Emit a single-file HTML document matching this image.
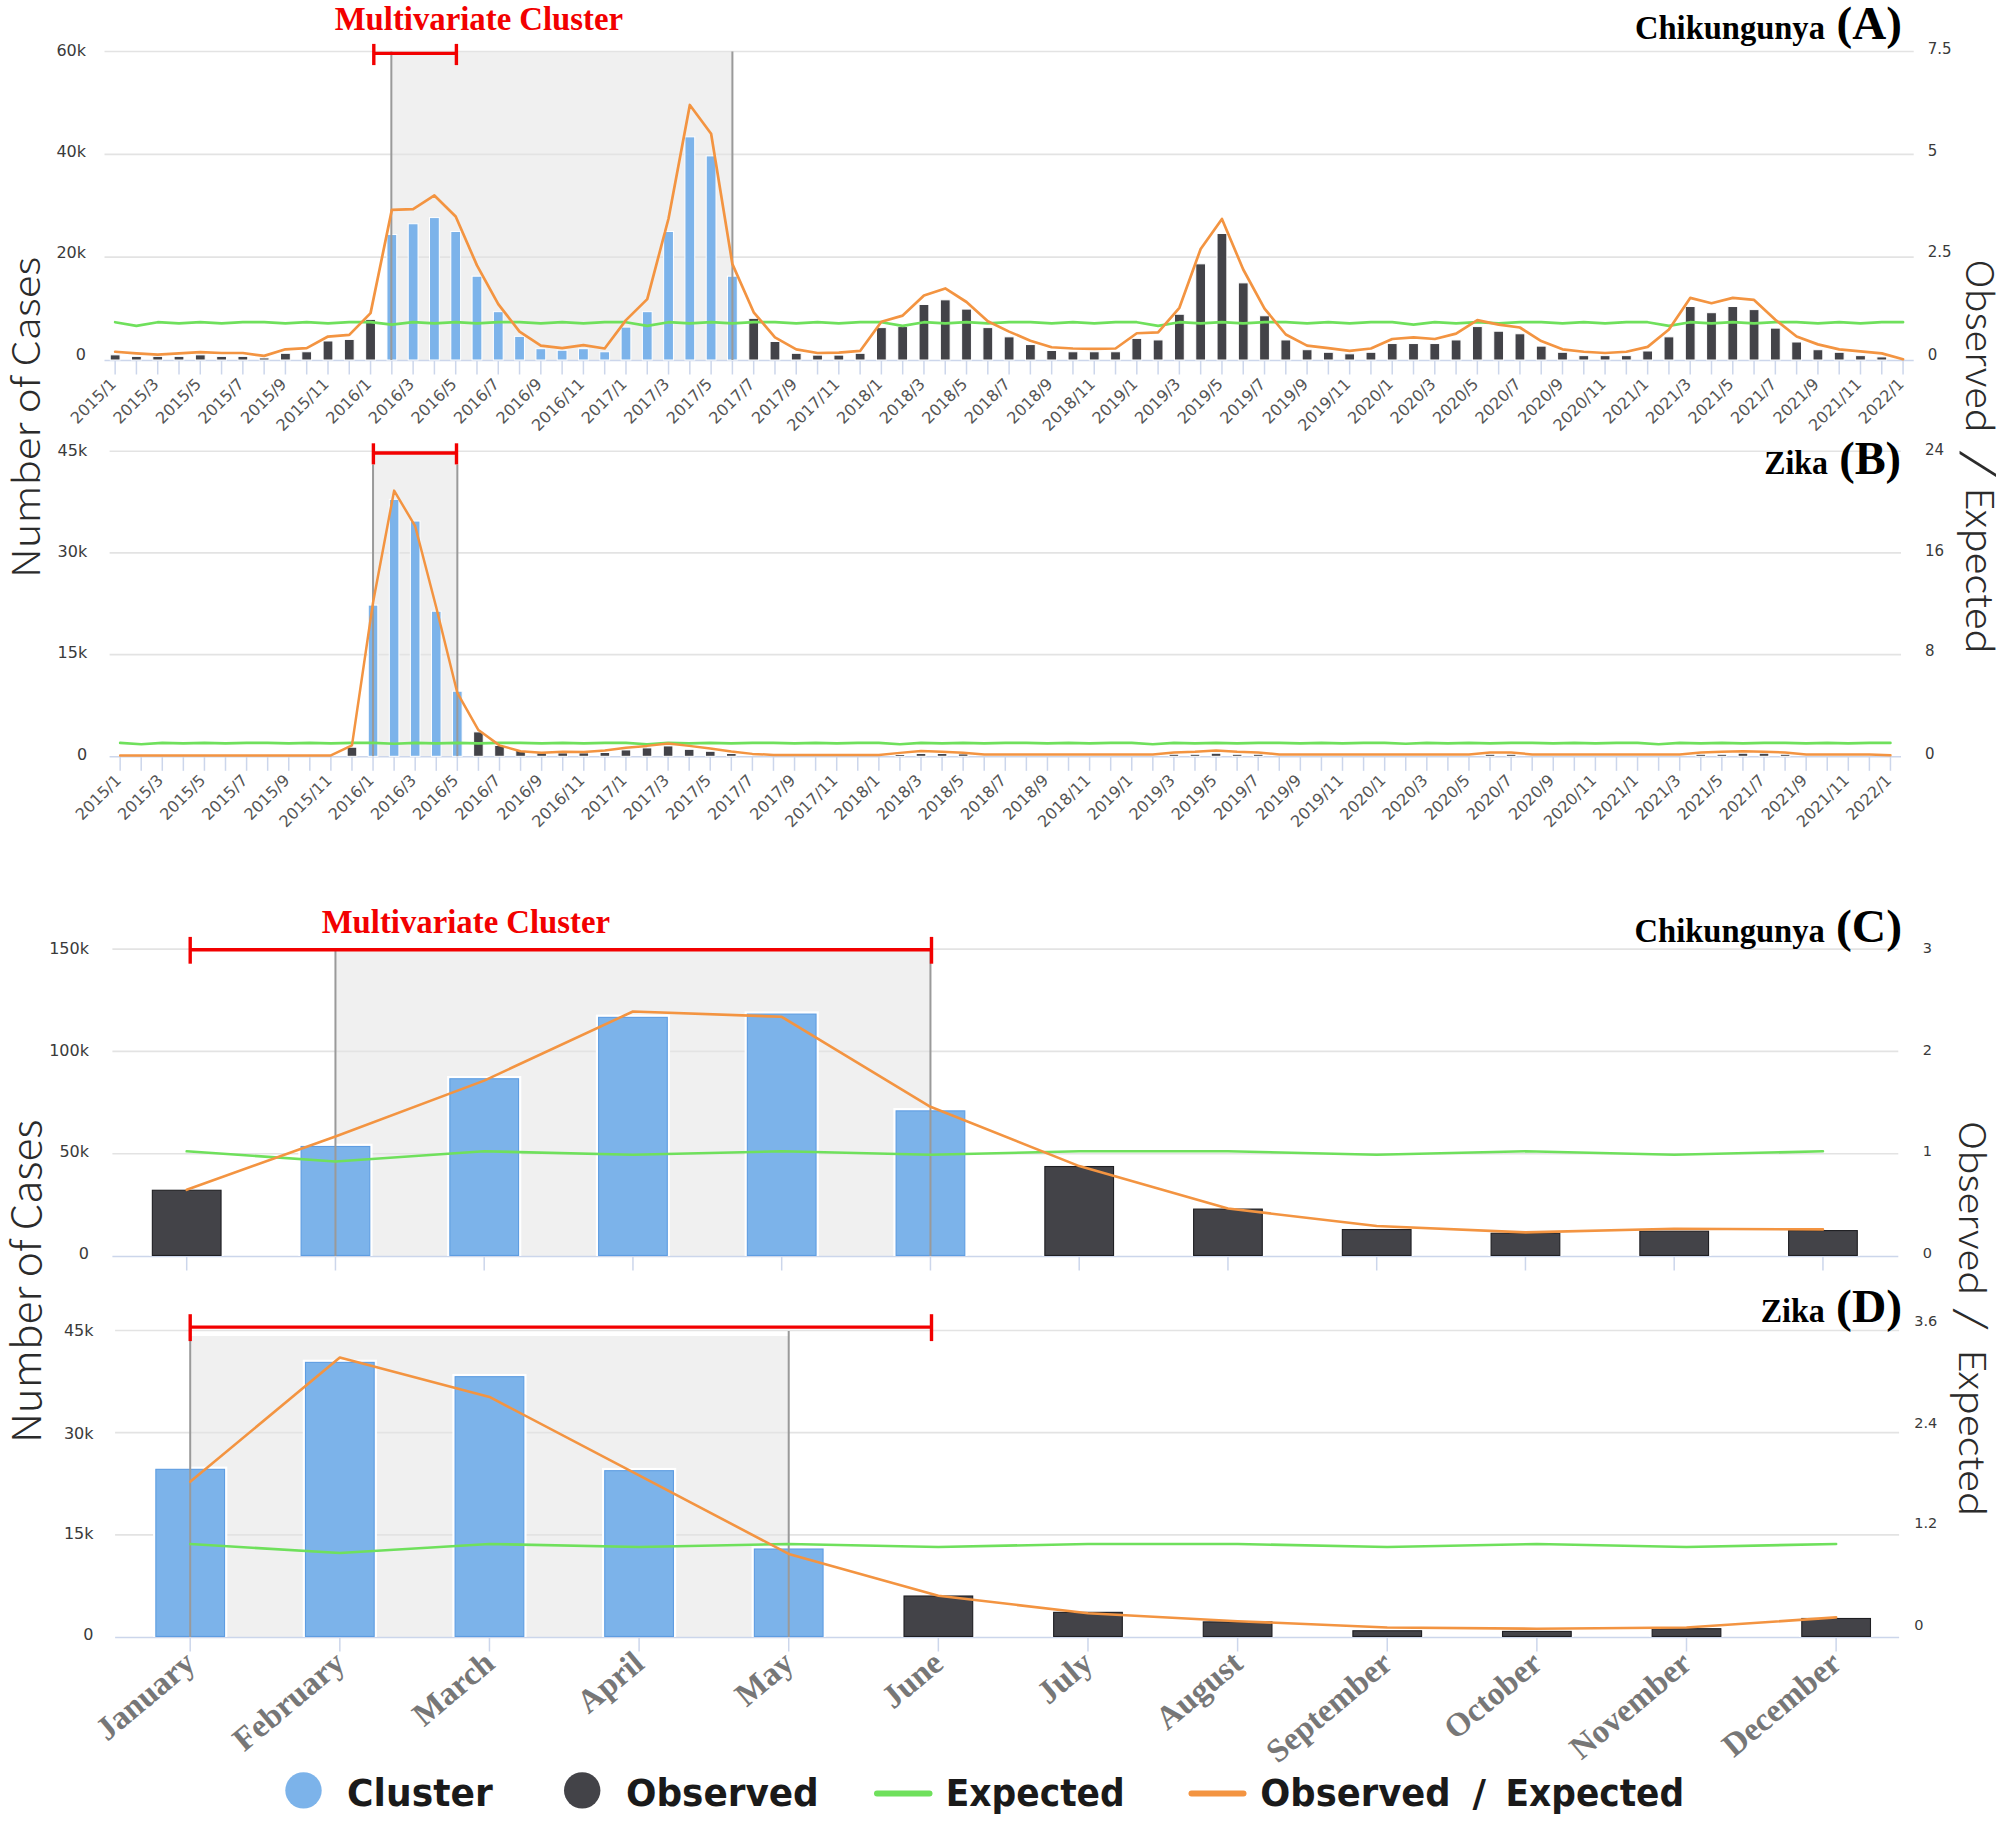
<!DOCTYPE html>
<html><head><meta charset="utf-8"><title>Chikungunya and Zika clusters</title>
<style>html,body{margin:0;padding:0;background:#fff;}svg{display:block;}.tl{font-family:"DejaVu Sans","Liberation Sans",sans-serif;fill:#3a3a3a;}.xl{font-family:"DejaVu Sans","Liberation Sans",sans-serif;fill:#555;font-size:16px;}.ser{font-family:"Liberation Serif","Times New Roman",serif;font-weight:bold;}.ttl{font-family:"Noto Sans CJK JP","DejaVu Sans","Liberation Sans",sans-serif;font-weight:300;fill:#2b2b2b;}.lg{font-family:"DejaVu Sans","Liberation Sans",sans-serif;font-weight:bold;fill:#1a1a1a;}</style></head><body>
<svg width="2006" height="1826" viewBox="0 0 2006 1826">
<rect width="2006" height="1826" fill="#fff"/>
<g id="chartA">
<rect x="391.84" y="51.5" width="340.56" height="308.5" fill="#f0f0f0"/>
<line x1="104.5" y1="51.5" x2="1913.7" y2="51.5" stroke="#e3e3e3" stroke-width="1.6"/>
<line x1="104.5" y1="154.33" x2="1913.7" y2="154.33" stroke="#e3e3e3" stroke-width="1.6"/>
<line x1="104.5" y1="257.17" x2="1913.7" y2="257.17" stroke="#e3e3e3" stroke-width="1.6"/>
<line x1="104.5" y1="360.5" x2="1913.7" y2="360.5" stroke="#ccd6eb" stroke-width="1.6"/>
<line x1="115.14" y1="360.5" x2="115.14" y2="374.5" stroke="#ccd6eb" stroke-width="1.5"/>
<line x1="136.43" y1="360.5" x2="136.43" y2="374.5" stroke="#ccd6eb" stroke-width="1.5"/>
<line x1="157.71" y1="360.5" x2="157.71" y2="374.5" stroke="#ccd6eb" stroke-width="1.5"/>
<line x1="179" y1="360.5" x2="179" y2="374.5" stroke="#ccd6eb" stroke-width="1.5"/>
<line x1="200.28" y1="360.5" x2="200.28" y2="374.5" stroke="#ccd6eb" stroke-width="1.5"/>
<line x1="221.57" y1="360.5" x2="221.57" y2="374.5" stroke="#ccd6eb" stroke-width="1.5"/>
<line x1="242.85" y1="360.5" x2="242.85" y2="374.5" stroke="#ccd6eb" stroke-width="1.5"/>
<line x1="264.14" y1="360.5" x2="264.14" y2="374.5" stroke="#ccd6eb" stroke-width="1.5"/>
<line x1="285.42" y1="360.5" x2="285.42" y2="374.5" stroke="#ccd6eb" stroke-width="1.5"/>
<line x1="306.7" y1="360.5" x2="306.7" y2="374.5" stroke="#ccd6eb" stroke-width="1.5"/>
<line x1="327.99" y1="360.5" x2="327.99" y2="374.5" stroke="#ccd6eb" stroke-width="1.5"/>
<line x1="349.27" y1="360.5" x2="349.27" y2="374.5" stroke="#ccd6eb" stroke-width="1.5"/>
<line x1="370.56" y1="360.5" x2="370.56" y2="374.5" stroke="#ccd6eb" stroke-width="1.5"/>
<line x1="391.84" y1="360.5" x2="391.84" y2="374.5" stroke="#ccd6eb" stroke-width="1.5"/>
<line x1="413.13" y1="360.5" x2="413.13" y2="374.5" stroke="#ccd6eb" stroke-width="1.5"/>
<line x1="434.41" y1="360.5" x2="434.41" y2="374.5" stroke="#ccd6eb" stroke-width="1.5"/>
<line x1="455.7" y1="360.5" x2="455.7" y2="374.5" stroke="#ccd6eb" stroke-width="1.5"/>
<line x1="476.98" y1="360.5" x2="476.98" y2="374.5" stroke="#ccd6eb" stroke-width="1.5"/>
<line x1="498.27" y1="360.5" x2="498.27" y2="374.5" stroke="#ccd6eb" stroke-width="1.5"/>
<line x1="519.55" y1="360.5" x2="519.55" y2="374.5" stroke="#ccd6eb" stroke-width="1.5"/>
<line x1="540.84" y1="360.5" x2="540.84" y2="374.5" stroke="#ccd6eb" stroke-width="1.5"/>
<line x1="562.12" y1="360.5" x2="562.12" y2="374.5" stroke="#ccd6eb" stroke-width="1.5"/>
<line x1="583.41" y1="360.5" x2="583.41" y2="374.5" stroke="#ccd6eb" stroke-width="1.5"/>
<line x1="604.69" y1="360.5" x2="604.69" y2="374.5" stroke="#ccd6eb" stroke-width="1.5"/>
<line x1="625.98" y1="360.5" x2="625.98" y2="374.5" stroke="#ccd6eb" stroke-width="1.5"/>
<line x1="647.26" y1="360.5" x2="647.26" y2="374.5" stroke="#ccd6eb" stroke-width="1.5"/>
<line x1="668.54" y1="360.5" x2="668.54" y2="374.5" stroke="#ccd6eb" stroke-width="1.5"/>
<line x1="689.83" y1="360.5" x2="689.83" y2="374.5" stroke="#ccd6eb" stroke-width="1.5"/>
<line x1="711.11" y1="360.5" x2="711.11" y2="374.5" stroke="#ccd6eb" stroke-width="1.5"/>
<line x1="732.4" y1="360.5" x2="732.4" y2="374.5" stroke="#ccd6eb" stroke-width="1.5"/>
<line x1="753.68" y1="360.5" x2="753.68" y2="374.5" stroke="#ccd6eb" stroke-width="1.5"/>
<line x1="774.97" y1="360.5" x2="774.97" y2="374.5" stroke="#ccd6eb" stroke-width="1.5"/>
<line x1="796.25" y1="360.5" x2="796.25" y2="374.5" stroke="#ccd6eb" stroke-width="1.5"/>
<line x1="817.54" y1="360.5" x2="817.54" y2="374.5" stroke="#ccd6eb" stroke-width="1.5"/>
<line x1="838.82" y1="360.5" x2="838.82" y2="374.5" stroke="#ccd6eb" stroke-width="1.5"/>
<line x1="860.11" y1="360.5" x2="860.11" y2="374.5" stroke="#ccd6eb" stroke-width="1.5"/>
<line x1="881.39" y1="360.5" x2="881.39" y2="374.5" stroke="#ccd6eb" stroke-width="1.5"/>
<line x1="902.68" y1="360.5" x2="902.68" y2="374.5" stroke="#ccd6eb" stroke-width="1.5"/>
<line x1="923.96" y1="360.5" x2="923.96" y2="374.5" stroke="#ccd6eb" stroke-width="1.5"/>
<line x1="945.25" y1="360.5" x2="945.25" y2="374.5" stroke="#ccd6eb" stroke-width="1.5"/>
<line x1="966.53" y1="360.5" x2="966.53" y2="374.5" stroke="#ccd6eb" stroke-width="1.5"/>
<line x1="987.82" y1="360.5" x2="987.82" y2="374.5" stroke="#ccd6eb" stroke-width="1.5"/>
<line x1="1009.1" y1="360.5" x2="1009.1" y2="374.5" stroke="#ccd6eb" stroke-width="1.5"/>
<line x1="1030.38" y1="360.5" x2="1030.38" y2="374.5" stroke="#ccd6eb" stroke-width="1.5"/>
<line x1="1051.67" y1="360.5" x2="1051.67" y2="374.5" stroke="#ccd6eb" stroke-width="1.5"/>
<line x1="1072.95" y1="360.5" x2="1072.95" y2="374.5" stroke="#ccd6eb" stroke-width="1.5"/>
<line x1="1094.24" y1="360.5" x2="1094.24" y2="374.5" stroke="#ccd6eb" stroke-width="1.5"/>
<line x1="1115.52" y1="360.5" x2="1115.52" y2="374.5" stroke="#ccd6eb" stroke-width="1.5"/>
<line x1="1136.81" y1="360.5" x2="1136.81" y2="374.5" stroke="#ccd6eb" stroke-width="1.5"/>
<line x1="1158.09" y1="360.5" x2="1158.09" y2="374.5" stroke="#ccd6eb" stroke-width="1.5"/>
<line x1="1179.38" y1="360.5" x2="1179.38" y2="374.5" stroke="#ccd6eb" stroke-width="1.5"/>
<line x1="1200.66" y1="360.5" x2="1200.66" y2="374.5" stroke="#ccd6eb" stroke-width="1.5"/>
<line x1="1221.95" y1="360.5" x2="1221.95" y2="374.5" stroke="#ccd6eb" stroke-width="1.5"/>
<line x1="1243.23" y1="360.5" x2="1243.23" y2="374.5" stroke="#ccd6eb" stroke-width="1.5"/>
<line x1="1264.52" y1="360.5" x2="1264.52" y2="374.5" stroke="#ccd6eb" stroke-width="1.5"/>
<line x1="1285.8" y1="360.5" x2="1285.8" y2="374.5" stroke="#ccd6eb" stroke-width="1.5"/>
<line x1="1307.09" y1="360.5" x2="1307.09" y2="374.5" stroke="#ccd6eb" stroke-width="1.5"/>
<line x1="1328.37" y1="360.5" x2="1328.37" y2="374.5" stroke="#ccd6eb" stroke-width="1.5"/>
<line x1="1349.66" y1="360.5" x2="1349.66" y2="374.5" stroke="#ccd6eb" stroke-width="1.5"/>
<line x1="1370.94" y1="360.5" x2="1370.94" y2="374.5" stroke="#ccd6eb" stroke-width="1.5"/>
<line x1="1392.22" y1="360.5" x2="1392.22" y2="374.5" stroke="#ccd6eb" stroke-width="1.5"/>
<line x1="1413.51" y1="360.5" x2="1413.51" y2="374.5" stroke="#ccd6eb" stroke-width="1.5"/>
<line x1="1434.79" y1="360.5" x2="1434.79" y2="374.5" stroke="#ccd6eb" stroke-width="1.5"/>
<line x1="1456.08" y1="360.5" x2="1456.08" y2="374.5" stroke="#ccd6eb" stroke-width="1.5"/>
<line x1="1477.36" y1="360.5" x2="1477.36" y2="374.5" stroke="#ccd6eb" stroke-width="1.5"/>
<line x1="1498.65" y1="360.5" x2="1498.65" y2="374.5" stroke="#ccd6eb" stroke-width="1.5"/>
<line x1="1519.93" y1="360.5" x2="1519.93" y2="374.5" stroke="#ccd6eb" stroke-width="1.5"/>
<line x1="1541.22" y1="360.5" x2="1541.22" y2="374.5" stroke="#ccd6eb" stroke-width="1.5"/>
<line x1="1562.5" y1="360.5" x2="1562.5" y2="374.5" stroke="#ccd6eb" stroke-width="1.5"/>
<line x1="1583.79" y1="360.5" x2="1583.79" y2="374.5" stroke="#ccd6eb" stroke-width="1.5"/>
<line x1="1605.07" y1="360.5" x2="1605.07" y2="374.5" stroke="#ccd6eb" stroke-width="1.5"/>
<line x1="1626.36" y1="360.5" x2="1626.36" y2="374.5" stroke="#ccd6eb" stroke-width="1.5"/>
<line x1="1647.64" y1="360.5" x2="1647.64" y2="374.5" stroke="#ccd6eb" stroke-width="1.5"/>
<line x1="1668.93" y1="360.5" x2="1668.93" y2="374.5" stroke="#ccd6eb" stroke-width="1.5"/>
<line x1="1690.21" y1="360.5" x2="1690.21" y2="374.5" stroke="#ccd6eb" stroke-width="1.5"/>
<line x1="1711.5" y1="360.5" x2="1711.5" y2="374.5" stroke="#ccd6eb" stroke-width="1.5"/>
<line x1="1732.78" y1="360.5" x2="1732.78" y2="374.5" stroke="#ccd6eb" stroke-width="1.5"/>
<line x1="1754.06" y1="360.5" x2="1754.06" y2="374.5" stroke="#ccd6eb" stroke-width="1.5"/>
<line x1="1775.35" y1="360.5" x2="1775.35" y2="374.5" stroke="#ccd6eb" stroke-width="1.5"/>
<line x1="1796.63" y1="360.5" x2="1796.63" y2="374.5" stroke="#ccd6eb" stroke-width="1.5"/>
<line x1="1817.92" y1="360.5" x2="1817.92" y2="374.5" stroke="#ccd6eb" stroke-width="1.5"/>
<line x1="1839.2" y1="360.5" x2="1839.2" y2="374.5" stroke="#ccd6eb" stroke-width="1.5"/>
<line x1="1860.49" y1="360.5" x2="1860.49" y2="374.5" stroke="#ccd6eb" stroke-width="1.5"/>
<line x1="1881.77" y1="360.5" x2="1881.77" y2="374.5" stroke="#ccd6eb" stroke-width="1.5"/>
<line x1="1903.06" y1="360.5" x2="1903.06" y2="374.5" stroke="#ccd6eb" stroke-width="1.5"/>
<rect x="110.24" y="354.86" width="9.8" height="5.14" fill="#434348" stroke="#fff" stroke-width="1"/>
<rect x="131.53" y="356.4" width="9.8" height="3.6" fill="#434348" stroke="#fff" stroke-width="1"/>
<rect x="152.81" y="356.4" width="9.8" height="3.6" fill="#434348" stroke="#fff" stroke-width="1"/>
<rect x="174.1" y="356.4" width="9.8" height="3.6" fill="#434348" stroke="#fff" stroke-width="1"/>
<rect x="195.38" y="354.86" width="9.8" height="5.14" fill="#434348" stroke="#fff" stroke-width="1"/>
<rect x="216.67" y="356.4" width="9.8" height="3.6" fill="#434348" stroke="#fff" stroke-width="1"/>
<rect x="237.95" y="356.4" width="9.8" height="3.6" fill="#434348" stroke="#fff" stroke-width="1"/>
<rect x="259.24" y="357.94" width="9.8" height="2.06" fill="#434348" stroke="#fff" stroke-width="1"/>
<rect x="280.52" y="353.32" width="9.8" height="6.68" fill="#434348" stroke="#fff" stroke-width="1"/>
<rect x="301.8" y="351.77" width="9.8" height="8.23" fill="#434348" stroke="#fff" stroke-width="1"/>
<rect x="323.09" y="340.98" width="9.8" height="19.02" fill="#434348" stroke="#fff" stroke-width="1"/>
<rect x="344.37" y="339.43" width="9.8" height="20.57" fill="#434348" stroke="#fff" stroke-width="1"/>
<rect x="365.66" y="319.38" width="9.8" height="40.62" fill="#434348" stroke="#fff" stroke-width="1"/>
<rect x="386.94" y="234.54" width="9.8" height="125.46" fill="#7cb3ea" stroke="#fff" stroke-width="1"/>
<rect x="408.23" y="223.75" width="9.8" height="136.25" fill="#7cb3ea" stroke="#fff" stroke-width="1"/>
<rect x="429.51" y="217.58" width="9.8" height="142.42" fill="#7cb3ea" stroke="#fff" stroke-width="1"/>
<rect x="450.8" y="231.46" width="9.8" height="128.54" fill="#7cb3ea" stroke="#fff" stroke-width="1"/>
<rect x="472.08" y="276.19" width="9.8" height="83.81" fill="#7cb3ea" stroke="#fff" stroke-width="1"/>
<rect x="493.37" y="311.67" width="9.8" height="48.33" fill="#7cb3ea" stroke="#fff" stroke-width="1"/>
<rect x="514.65" y="336.35" width="9.8" height="23.65" fill="#7cb3ea" stroke="#fff" stroke-width="1"/>
<rect x="535.94" y="348.69" width="9.8" height="11.31" fill="#7cb3ea" stroke="#fff" stroke-width="1"/>
<rect x="557.22" y="350.23" width="9.8" height="9.77" fill="#7cb3ea" stroke="#fff" stroke-width="1"/>
<rect x="578.51" y="348.69" width="9.8" height="11.31" fill="#7cb3ea" stroke="#fff" stroke-width="1"/>
<rect x="599.79" y="351.77" width="9.8" height="8.23" fill="#7cb3ea" stroke="#fff" stroke-width="1"/>
<rect x="621.08" y="327.09" width="9.8" height="32.91" fill="#7cb3ea" stroke="#fff" stroke-width="1"/>
<rect x="642.36" y="311.67" width="9.8" height="48.33" fill="#7cb3ea" stroke="#fff" stroke-width="1"/>
<rect x="663.64" y="231.46" width="9.8" height="128.54" fill="#7cb3ea" stroke="#fff" stroke-width="1"/>
<rect x="684.93" y="136.85" width="9.8" height="223.15" fill="#7cb3ea" stroke="#fff" stroke-width="1"/>
<rect x="706.21" y="155.88" width="9.8" height="204.12" fill="#7cb3ea" stroke="#fff" stroke-width="1"/>
<rect x="727.5" y="276.19" width="9.8" height="83.81" fill="#7cb3ea" stroke="#fff" stroke-width="1"/>
<rect x="748.78" y="318.35" width="9.8" height="41.65" fill="#434348" stroke="#fff" stroke-width="1"/>
<rect x="770.07" y="341.49" width="9.8" height="18.51" fill="#434348" stroke="#fff" stroke-width="1"/>
<rect x="791.35" y="353.32" width="9.8" height="6.68" fill="#434348" stroke="#fff" stroke-width="1"/>
<rect x="812.64" y="355.12" width="9.8" height="4.88" fill="#434348" stroke="#fff" stroke-width="1"/>
<rect x="833.92" y="355.12" width="9.8" height="4.88" fill="#434348" stroke="#fff" stroke-width="1"/>
<rect x="855.21" y="353.32" width="9.8" height="6.68" fill="#434348" stroke="#fff" stroke-width="1"/>
<rect x="876.49" y="327.61" width="9.8" height="32.39" fill="#434348" stroke="#fff" stroke-width="1"/>
<rect x="897.78" y="326.58" width="9.8" height="33.42" fill="#434348" stroke="#fff" stroke-width="1"/>
<rect x="919.06" y="304.47" width="9.8" height="55.53" fill="#434348" stroke="#fff" stroke-width="1"/>
<rect x="940.35" y="299.84" width="9.8" height="60.16" fill="#434348" stroke="#fff" stroke-width="1"/>
<rect x="961.63" y="309.1" width="9.8" height="50.9" fill="#434348" stroke="#fff" stroke-width="1"/>
<rect x="982.92" y="327.61" width="9.8" height="32.39" fill="#434348" stroke="#fff" stroke-width="1"/>
<rect x="1004.2" y="336.86" width="9.8" height="23.14" fill="#434348" stroke="#fff" stroke-width="1"/>
<rect x="1025.48" y="344.57" width="9.8" height="15.43" fill="#434348" stroke="#fff" stroke-width="1"/>
<rect x="1046.77" y="350.49" width="9.8" height="9.51" fill="#434348" stroke="#fff" stroke-width="1"/>
<rect x="1068.05" y="351.77" width="9.8" height="8.23" fill="#434348" stroke="#fff" stroke-width="1"/>
<rect x="1089.34" y="351.77" width="9.8" height="8.23" fill="#434348" stroke="#fff" stroke-width="1"/>
<rect x="1110.62" y="351.77" width="9.8" height="8.23" fill="#434348" stroke="#fff" stroke-width="1"/>
<rect x="1131.91" y="338.4" width="9.8" height="21.6" fill="#434348" stroke="#fff" stroke-width="1"/>
<rect x="1153.19" y="339.95" width="9.8" height="20.05" fill="#434348" stroke="#fff" stroke-width="1"/>
<rect x="1174.48" y="314.24" width="9.8" height="45.76" fill="#434348" stroke="#fff" stroke-width="1"/>
<rect x="1195.76" y="263.85" width="9.8" height="96.15" fill="#434348" stroke="#fff" stroke-width="1"/>
<rect x="1217.05" y="233.51" width="9.8" height="126.48" fill="#434348" stroke="#fff" stroke-width="1"/>
<rect x="1238.33" y="282.88" width="9.8" height="77.12" fill="#434348" stroke="#fff" stroke-width="1"/>
<rect x="1259.62" y="315.78" width="9.8" height="44.22" fill="#434348" stroke="#fff" stroke-width="1"/>
<rect x="1280.9" y="339.95" width="9.8" height="20.05" fill="#434348" stroke="#fff" stroke-width="1"/>
<rect x="1302.19" y="349.72" width="9.8" height="10.28" fill="#434348" stroke="#fff" stroke-width="1"/>
<rect x="1323.47" y="352.29" width="9.8" height="7.71" fill="#434348" stroke="#fff" stroke-width="1"/>
<rect x="1344.76" y="353.83" width="9.8" height="6.17" fill="#434348" stroke="#fff" stroke-width="1"/>
<rect x="1366.04" y="352.29" width="9.8" height="7.71" fill="#434348" stroke="#fff" stroke-width="1"/>
<rect x="1387.32" y="343.55" width="9.8" height="16.45" fill="#434348" stroke="#fff" stroke-width="1"/>
<rect x="1408.61" y="343.55" width="9.8" height="16.45" fill="#434348" stroke="#fff" stroke-width="1"/>
<rect x="1429.89" y="343.55" width="9.8" height="16.45" fill="#434348" stroke="#fff" stroke-width="1"/>
<rect x="1451.18" y="339.95" width="9.8" height="20.05" fill="#434348" stroke="#fff" stroke-width="1"/>
<rect x="1472.46" y="326.58" width="9.8" height="33.42" fill="#434348" stroke="#fff" stroke-width="1"/>
<rect x="1493.75" y="331.21" width="9.8" height="28.79" fill="#434348" stroke="#fff" stroke-width="1"/>
<rect x="1515.03" y="333.78" width="9.8" height="26.22" fill="#434348" stroke="#fff" stroke-width="1"/>
<rect x="1536.32" y="346.12" width="9.8" height="13.88" fill="#434348" stroke="#fff" stroke-width="1"/>
<rect x="1557.6" y="352.29" width="9.8" height="7.71" fill="#434348" stroke="#fff" stroke-width="1"/>
<rect x="1578.89" y="355.63" width="9.8" height="4.37" fill="#434348" stroke="#fff" stroke-width="1"/>
<rect x="1600.17" y="355.63" width="9.8" height="4.37" fill="#434348" stroke="#fff" stroke-width="1"/>
<rect x="1621.46" y="355.63" width="9.8" height="4.37" fill="#434348" stroke="#fff" stroke-width="1"/>
<rect x="1642.74" y="351" width="9.8" height="9" fill="#434348" stroke="#fff" stroke-width="1"/>
<rect x="1664.03" y="336.86" width="9.8" height="23.14" fill="#434348" stroke="#fff" stroke-width="1"/>
<rect x="1685.31" y="306.53" width="9.8" height="53.47" fill="#434348" stroke="#fff" stroke-width="1"/>
<rect x="1706.6" y="312.7" width="9.8" height="47.3" fill="#434348" stroke="#fff" stroke-width="1"/>
<rect x="1727.88" y="306.53" width="9.8" height="53.47" fill="#434348" stroke="#fff" stroke-width="1"/>
<rect x="1749.16" y="309.61" width="9.8" height="50.39" fill="#434348" stroke="#fff" stroke-width="1"/>
<rect x="1770.45" y="328.12" width="9.8" height="31.88" fill="#434348" stroke="#fff" stroke-width="1"/>
<rect x="1791.73" y="342" width="9.8" height="18" fill="#434348" stroke="#fff" stroke-width="1"/>
<rect x="1813.02" y="349.72" width="9.8" height="10.28" fill="#434348" stroke="#fff" stroke-width="1"/>
<rect x="1834.3" y="352.29" width="9.8" height="7.71" fill="#434348" stroke="#fff" stroke-width="1"/>
<rect x="1855.59" y="355.63" width="9.8" height="4.37" fill="#434348" stroke="#fff" stroke-width="1"/>
<rect x="1876.87" y="356.92" width="9.8" height="3.08" fill="#434348" stroke="#fff" stroke-width="1"/>
<line x1="391.34" y1="51.5" x2="391.34" y2="360" stroke="#9a9a9a" stroke-width="2"/>
<line x1="732.4" y1="51.5" x2="732.4" y2="360" stroke="#9a9a9a" stroke-width="2"/>
<polyline points="115.14,322.21 136.43,325.87 157.71,322.21 179,323.43 200.28,322.21 221.57,323.43 242.85,322.21 264.14,322.21 285.42,323.43 306.7,322.21 327.99,323.43 349.27,322.21 370.56,322.21 391.84,324.65 413.13,322.21 434.41,323.43 455.7,322.21 476.98,323.43 498.27,322.21 519.55,322.21 540.84,323.43 562.12,322.21 583.41,323.43 604.69,322.21 625.98,322.21 647.26,325.87 668.54,322.21 689.83,323.43 711.11,322.21 732.4,323.43 753.68,322.21 774.97,322.21 796.25,323.43 817.54,322.21 838.82,323.43 860.11,322.21 881.39,322.21 902.68,325.87 923.96,322.21 945.25,323.43 966.53,322.21 987.82,323.43 1009.1,322.21 1030.38,322.21 1051.67,323.43 1072.95,322.21 1094.24,323.43 1115.52,322.21 1136.81,322.21 1158.09,325.87 1179.38,322.21 1200.66,323.43 1221.95,322.21 1243.23,323.43 1264.52,322.21 1285.8,322.21 1307.09,323.43 1328.37,322.21 1349.66,323.43 1370.94,322.21 1392.22,322.21 1413.51,324.65 1434.79,322.21 1456.08,323.43 1477.36,322.21 1498.65,323.43 1519.93,322.21 1541.22,322.21 1562.5,323.43 1583.79,322.21 1605.07,323.43 1626.36,322.21 1647.64,322.21 1668.93,325.87 1690.21,322.21 1711.5,323.43 1732.78,322.21 1754.06,323.43 1775.35,322.21 1796.63,322.21 1817.92,323.43 1839.2,322.21 1860.49,323.43 1881.77,322.21 1903.06,322.21" fill="none" stroke="#6fe05c" stroke-width="2.7" stroke-linejoin="round" stroke-linecap="round"/>
<polyline points="115.14,351.77 136.43,353.42 157.71,354.65 179,353.42 200.28,352.18 221.57,353.01 242.85,353.01 264.14,355.89 285.42,349.31 306.7,348.07 327.99,336.55 349.27,334.91 370.56,313.11 391.84,209.86 413.13,209.04 434.41,195.47 455.7,216.44 476.98,265.39 498.27,304.06 519.55,331.62 540.84,345.6 562.12,348.07 583.41,345.19 604.69,348.48 625.98,320.1 647.26,299.12 668.54,218.5 689.83,104.97 711.11,133.77 732.4,264.16 753.68,312.29 774.97,337.38 796.25,349.31 817.54,353.01 838.82,352.6 860.11,350.95 881.39,321.75 902.68,315.58 923.96,295.42 945.25,288.43 966.53,302 987.82,321.33 1009.1,331.62 1030.38,340.67 1051.67,347.25 1072.95,348.48 1094.24,348.89 1115.52,348.48 1136.81,333.26 1158.09,332.44 1179.38,307.76 1200.66,248.94 1221.95,218.91 1243.23,269.51 1264.52,308.58 1285.8,334.5 1307.09,345.6 1328.37,348.07 1349.66,350.95 1370.94,348.48 1392.22,339.02 1413.51,337.38 1434.79,339.02 1456.08,333.67 1477.36,320.1 1498.65,324.63 1519.93,327.5 1541.22,341.08 1562.5,349.31 1583.79,351.77 1605.07,353.01 1626.36,351.77 1647.64,346.84 1668.93,329.56 1690.21,297.89 1711.5,303.24 1732.78,297.89 1754.06,299.95 1775.35,319.69 1796.63,336.55 1817.92,344.37 1839.2,349.31 1860.49,351.36 1881.77,353.42 1903.06,359.18" fill="none" stroke="#f39441" stroke-width="2.7" stroke-linejoin="round" stroke-linecap="round"/>
<g stroke="#f20000" stroke-width="3.4" fill="none">
<line x1="373.8" y1="53.4" x2="456.4" y2="53.4"/>
<line x1="373.8" y1="43.9" x2="373.8" y2="65.1"/>
<line x1="456.4" y1="43.9" x2="456.4" y2="65.1"/>
</g>
<text x="86" y="55.66" text-anchor="end" class="tl" font-size="16">60k</text>
<text x="86" y="156.56" text-anchor="end" class="tl" font-size="16">40k</text>
<text x="86" y="257.96" text-anchor="end" class="tl" font-size="16">20k</text>
<text x="86" y="359.76" text-anchor="end" class="tl" font-size="16">0</text>
<text x="1927.8" y="54.4" text-anchor="start" class="tl" font-size="15">7.5</text>
<text x="1927.8" y="156.3" text-anchor="start" class="tl" font-size="15">5</text>
<text x="1927.8" y="257.2" text-anchor="start" class="tl" font-size="15">2.5</text>
<text x="1927.8" y="359.8" text-anchor="start" class="tl" font-size="15">0</text>
<text class="xl" x="117.14" y="385" text-anchor="end" transform="rotate(-45 117.14 385)">2015/1</text>
<text class="xl" x="159.71" y="385" text-anchor="end" transform="rotate(-45 159.71 385)">2015/3</text>
<text class="xl" x="202.28" y="385" text-anchor="end" transform="rotate(-45 202.28 385)">2015/5</text>
<text class="xl" x="244.85" y="385" text-anchor="end" transform="rotate(-45 244.85 385)">2015/7</text>
<text class="xl" x="287.42" y="385" text-anchor="end" transform="rotate(-45 287.42 385)">2015/9</text>
<text class="xl" x="329.99" y="385" text-anchor="end" transform="rotate(-45 329.99 385)">2015/11</text>
<text class="xl" x="372.56" y="385" text-anchor="end" transform="rotate(-45 372.56 385)">2016/1</text>
<text class="xl" x="415.13" y="385" text-anchor="end" transform="rotate(-45 415.13 385)">2016/3</text>
<text class="xl" x="457.7" y="385" text-anchor="end" transform="rotate(-45 457.7 385)">2016/5</text>
<text class="xl" x="500.27" y="385" text-anchor="end" transform="rotate(-45 500.27 385)">2016/7</text>
<text class="xl" x="542.84" y="385" text-anchor="end" transform="rotate(-45 542.84 385)">2016/9</text>
<text class="xl" x="585.41" y="385" text-anchor="end" transform="rotate(-45 585.41 385)">2016/11</text>
<text class="xl" x="627.98" y="385" text-anchor="end" transform="rotate(-45 627.98 385)">2017/1</text>
<text class="xl" x="670.54" y="385" text-anchor="end" transform="rotate(-45 670.54 385)">2017/3</text>
<text class="xl" x="713.11" y="385" text-anchor="end" transform="rotate(-45 713.11 385)">2017/5</text>
<text class="xl" x="755.68" y="385" text-anchor="end" transform="rotate(-45 755.68 385)">2017/7</text>
<text class="xl" x="798.25" y="385" text-anchor="end" transform="rotate(-45 798.25 385)">2017/9</text>
<text class="xl" x="840.82" y="385" text-anchor="end" transform="rotate(-45 840.82 385)">2017/11</text>
<text class="xl" x="883.39" y="385" text-anchor="end" transform="rotate(-45 883.39 385)">2018/1</text>
<text class="xl" x="925.96" y="385" text-anchor="end" transform="rotate(-45 925.96 385)">2018/3</text>
<text class="xl" x="968.53" y="385" text-anchor="end" transform="rotate(-45 968.53 385)">2018/5</text>
<text class="xl" x="1011.1" y="385" text-anchor="end" transform="rotate(-45 1011.1 385)">2018/7</text>
<text class="xl" x="1053.67" y="385" text-anchor="end" transform="rotate(-45 1053.67 385)">2018/9</text>
<text class="xl" x="1096.24" y="385" text-anchor="end" transform="rotate(-45 1096.24 385)">2018/11</text>
<text class="xl" x="1138.81" y="385" text-anchor="end" transform="rotate(-45 1138.81 385)">2019/1</text>
<text class="xl" x="1181.38" y="385" text-anchor="end" transform="rotate(-45 1181.38 385)">2019/3</text>
<text class="xl" x="1223.95" y="385" text-anchor="end" transform="rotate(-45 1223.95 385)">2019/5</text>
<text class="xl" x="1266.52" y="385" text-anchor="end" transform="rotate(-45 1266.52 385)">2019/7</text>
<text class="xl" x="1309.09" y="385" text-anchor="end" transform="rotate(-45 1309.09 385)">2019/9</text>
<text class="xl" x="1351.66" y="385" text-anchor="end" transform="rotate(-45 1351.66 385)">2019/11</text>
<text class="xl" x="1394.22" y="385" text-anchor="end" transform="rotate(-45 1394.22 385)">2020/1</text>
<text class="xl" x="1436.79" y="385" text-anchor="end" transform="rotate(-45 1436.79 385)">2020/3</text>
<text class="xl" x="1479.36" y="385" text-anchor="end" transform="rotate(-45 1479.36 385)">2020/5</text>
<text class="xl" x="1521.93" y="385" text-anchor="end" transform="rotate(-45 1521.93 385)">2020/7</text>
<text class="xl" x="1564.5" y="385" text-anchor="end" transform="rotate(-45 1564.5 385)">2020/9</text>
<text class="xl" x="1607.07" y="385" text-anchor="end" transform="rotate(-45 1607.07 385)">2020/11</text>
<text class="xl" x="1649.64" y="385" text-anchor="end" transform="rotate(-45 1649.64 385)">2021/1</text>
<text class="xl" x="1692.21" y="385" text-anchor="end" transform="rotate(-45 1692.21 385)">2021/3</text>
<text class="xl" x="1734.78" y="385" text-anchor="end" transform="rotate(-45 1734.78 385)">2021/5</text>
<text class="xl" x="1777.35" y="385" text-anchor="end" transform="rotate(-45 1777.35 385)">2021/7</text>
<text class="xl" x="1819.92" y="385" text-anchor="end" transform="rotate(-45 1819.92 385)">2021/9</text>
<text class="xl" x="1862.49" y="385" text-anchor="end" transform="rotate(-45 1862.49 385)">2021/11</text>
<text class="xl" x="1905.06" y="385" text-anchor="end" transform="rotate(-45 1905.06 385)">2022/1</text>
</g>
<g id="chartB">
<rect x="373.04" y="451.2" width="84.3" height="305.1" fill="#f0f0f0"/>
<line x1="109.6" y1="451.2" x2="1901" y2="451.2" stroke="#e3e3e3" stroke-width="1.6"/>
<line x1="109.6" y1="552.9" x2="1901" y2="552.9" stroke="#e3e3e3" stroke-width="1.6"/>
<line x1="109.6" y1="654.6" x2="1901" y2="654.6" stroke="#e3e3e3" stroke-width="1.6"/>
<line x1="109.6" y1="756.8" x2="1901" y2="756.8" stroke="#ccd6eb" stroke-width="1.6"/>
<line x1="120.14" y1="756.8" x2="120.14" y2="770.8" stroke="#ccd6eb" stroke-width="1.5"/>
<line x1="141.21" y1="756.8" x2="141.21" y2="770.8" stroke="#ccd6eb" stroke-width="1.5"/>
<line x1="162.29" y1="756.8" x2="162.29" y2="770.8" stroke="#ccd6eb" stroke-width="1.5"/>
<line x1="183.36" y1="756.8" x2="183.36" y2="770.8" stroke="#ccd6eb" stroke-width="1.5"/>
<line x1="204.44" y1="756.8" x2="204.44" y2="770.8" stroke="#ccd6eb" stroke-width="1.5"/>
<line x1="225.51" y1="756.8" x2="225.51" y2="770.8" stroke="#ccd6eb" stroke-width="1.5"/>
<line x1="246.59" y1="756.8" x2="246.59" y2="770.8" stroke="#ccd6eb" stroke-width="1.5"/>
<line x1="267.66" y1="756.8" x2="267.66" y2="770.8" stroke="#ccd6eb" stroke-width="1.5"/>
<line x1="288.74" y1="756.8" x2="288.74" y2="770.8" stroke="#ccd6eb" stroke-width="1.5"/>
<line x1="309.82" y1="756.8" x2="309.82" y2="770.8" stroke="#ccd6eb" stroke-width="1.5"/>
<line x1="330.89" y1="756.8" x2="330.89" y2="770.8" stroke="#ccd6eb" stroke-width="1.5"/>
<line x1="351.97" y1="756.8" x2="351.97" y2="770.8" stroke="#ccd6eb" stroke-width="1.5"/>
<line x1="373.04" y1="756.8" x2="373.04" y2="770.8" stroke="#ccd6eb" stroke-width="1.5"/>
<line x1="394.12" y1="756.8" x2="394.12" y2="770.8" stroke="#ccd6eb" stroke-width="1.5"/>
<line x1="415.19" y1="756.8" x2="415.19" y2="770.8" stroke="#ccd6eb" stroke-width="1.5"/>
<line x1="436.27" y1="756.8" x2="436.27" y2="770.8" stroke="#ccd6eb" stroke-width="1.5"/>
<line x1="457.34" y1="756.8" x2="457.34" y2="770.8" stroke="#ccd6eb" stroke-width="1.5"/>
<line x1="478.42" y1="756.8" x2="478.42" y2="770.8" stroke="#ccd6eb" stroke-width="1.5"/>
<line x1="499.49" y1="756.8" x2="499.49" y2="770.8" stroke="#ccd6eb" stroke-width="1.5"/>
<line x1="520.57" y1="756.8" x2="520.57" y2="770.8" stroke="#ccd6eb" stroke-width="1.5"/>
<line x1="541.64" y1="756.8" x2="541.64" y2="770.8" stroke="#ccd6eb" stroke-width="1.5"/>
<line x1="562.72" y1="756.8" x2="562.72" y2="770.8" stroke="#ccd6eb" stroke-width="1.5"/>
<line x1="583.79" y1="756.8" x2="583.79" y2="770.8" stroke="#ccd6eb" stroke-width="1.5"/>
<line x1="604.87" y1="756.8" x2="604.87" y2="770.8" stroke="#ccd6eb" stroke-width="1.5"/>
<line x1="625.94" y1="756.8" x2="625.94" y2="770.8" stroke="#ccd6eb" stroke-width="1.5"/>
<line x1="647.02" y1="756.8" x2="647.02" y2="770.8" stroke="#ccd6eb" stroke-width="1.5"/>
<line x1="668.1" y1="756.8" x2="668.1" y2="770.8" stroke="#ccd6eb" stroke-width="1.5"/>
<line x1="689.17" y1="756.8" x2="689.17" y2="770.8" stroke="#ccd6eb" stroke-width="1.5"/>
<line x1="710.25" y1="756.8" x2="710.25" y2="770.8" stroke="#ccd6eb" stroke-width="1.5"/>
<line x1="731.32" y1="756.8" x2="731.32" y2="770.8" stroke="#ccd6eb" stroke-width="1.5"/>
<line x1="752.4" y1="756.8" x2="752.4" y2="770.8" stroke="#ccd6eb" stroke-width="1.5"/>
<line x1="773.47" y1="756.8" x2="773.47" y2="770.8" stroke="#ccd6eb" stroke-width="1.5"/>
<line x1="794.55" y1="756.8" x2="794.55" y2="770.8" stroke="#ccd6eb" stroke-width="1.5"/>
<line x1="815.62" y1="756.8" x2="815.62" y2="770.8" stroke="#ccd6eb" stroke-width="1.5"/>
<line x1="836.7" y1="756.8" x2="836.7" y2="770.8" stroke="#ccd6eb" stroke-width="1.5"/>
<line x1="857.77" y1="756.8" x2="857.77" y2="770.8" stroke="#ccd6eb" stroke-width="1.5"/>
<line x1="878.85" y1="756.8" x2="878.85" y2="770.8" stroke="#ccd6eb" stroke-width="1.5"/>
<line x1="899.92" y1="756.8" x2="899.92" y2="770.8" stroke="#ccd6eb" stroke-width="1.5"/>
<line x1="921" y1="756.8" x2="921" y2="770.8" stroke="#ccd6eb" stroke-width="1.5"/>
<line x1="942.07" y1="756.8" x2="942.07" y2="770.8" stroke="#ccd6eb" stroke-width="1.5"/>
<line x1="963.15" y1="756.8" x2="963.15" y2="770.8" stroke="#ccd6eb" stroke-width="1.5"/>
<line x1="984.22" y1="756.8" x2="984.22" y2="770.8" stroke="#ccd6eb" stroke-width="1.5"/>
<line x1="1005.3" y1="756.8" x2="1005.3" y2="770.8" stroke="#ccd6eb" stroke-width="1.5"/>
<line x1="1026.38" y1="756.8" x2="1026.38" y2="770.8" stroke="#ccd6eb" stroke-width="1.5"/>
<line x1="1047.45" y1="756.8" x2="1047.45" y2="770.8" stroke="#ccd6eb" stroke-width="1.5"/>
<line x1="1068.53" y1="756.8" x2="1068.53" y2="770.8" stroke="#ccd6eb" stroke-width="1.5"/>
<line x1="1089.6" y1="756.8" x2="1089.6" y2="770.8" stroke="#ccd6eb" stroke-width="1.5"/>
<line x1="1110.68" y1="756.8" x2="1110.68" y2="770.8" stroke="#ccd6eb" stroke-width="1.5"/>
<line x1="1131.75" y1="756.8" x2="1131.75" y2="770.8" stroke="#ccd6eb" stroke-width="1.5"/>
<line x1="1152.83" y1="756.8" x2="1152.83" y2="770.8" stroke="#ccd6eb" stroke-width="1.5"/>
<line x1="1173.9" y1="756.8" x2="1173.9" y2="770.8" stroke="#ccd6eb" stroke-width="1.5"/>
<line x1="1194.98" y1="756.8" x2="1194.98" y2="770.8" stroke="#ccd6eb" stroke-width="1.5"/>
<line x1="1216.05" y1="756.8" x2="1216.05" y2="770.8" stroke="#ccd6eb" stroke-width="1.5"/>
<line x1="1237.13" y1="756.8" x2="1237.13" y2="770.8" stroke="#ccd6eb" stroke-width="1.5"/>
<line x1="1258.2" y1="756.8" x2="1258.2" y2="770.8" stroke="#ccd6eb" stroke-width="1.5"/>
<line x1="1279.28" y1="756.8" x2="1279.28" y2="770.8" stroke="#ccd6eb" stroke-width="1.5"/>
<line x1="1300.35" y1="756.8" x2="1300.35" y2="770.8" stroke="#ccd6eb" stroke-width="1.5"/>
<line x1="1321.43" y1="756.8" x2="1321.43" y2="770.8" stroke="#ccd6eb" stroke-width="1.5"/>
<line x1="1342.5" y1="756.8" x2="1342.5" y2="770.8" stroke="#ccd6eb" stroke-width="1.5"/>
<line x1="1363.58" y1="756.8" x2="1363.58" y2="770.8" stroke="#ccd6eb" stroke-width="1.5"/>
<line x1="1384.66" y1="756.8" x2="1384.66" y2="770.8" stroke="#ccd6eb" stroke-width="1.5"/>
<line x1="1405.73" y1="756.8" x2="1405.73" y2="770.8" stroke="#ccd6eb" stroke-width="1.5"/>
<line x1="1426.81" y1="756.8" x2="1426.81" y2="770.8" stroke="#ccd6eb" stroke-width="1.5"/>
<line x1="1447.88" y1="756.8" x2="1447.88" y2="770.8" stroke="#ccd6eb" stroke-width="1.5"/>
<line x1="1468.96" y1="756.8" x2="1468.96" y2="770.8" stroke="#ccd6eb" stroke-width="1.5"/>
<line x1="1490.03" y1="756.8" x2="1490.03" y2="770.8" stroke="#ccd6eb" stroke-width="1.5"/>
<line x1="1511.11" y1="756.8" x2="1511.11" y2="770.8" stroke="#ccd6eb" stroke-width="1.5"/>
<line x1="1532.18" y1="756.8" x2="1532.18" y2="770.8" stroke="#ccd6eb" stroke-width="1.5"/>
<line x1="1553.26" y1="756.8" x2="1553.26" y2="770.8" stroke="#ccd6eb" stroke-width="1.5"/>
<line x1="1574.33" y1="756.8" x2="1574.33" y2="770.8" stroke="#ccd6eb" stroke-width="1.5"/>
<line x1="1595.41" y1="756.8" x2="1595.41" y2="770.8" stroke="#ccd6eb" stroke-width="1.5"/>
<line x1="1616.48" y1="756.8" x2="1616.48" y2="770.8" stroke="#ccd6eb" stroke-width="1.5"/>
<line x1="1637.56" y1="756.8" x2="1637.56" y2="770.8" stroke="#ccd6eb" stroke-width="1.5"/>
<line x1="1658.63" y1="756.8" x2="1658.63" y2="770.8" stroke="#ccd6eb" stroke-width="1.5"/>
<line x1="1679.71" y1="756.8" x2="1679.71" y2="770.8" stroke="#ccd6eb" stroke-width="1.5"/>
<line x1="1700.78" y1="756.8" x2="1700.78" y2="770.8" stroke="#ccd6eb" stroke-width="1.5"/>
<line x1="1721.86" y1="756.8" x2="1721.86" y2="770.8" stroke="#ccd6eb" stroke-width="1.5"/>
<line x1="1742.94" y1="756.8" x2="1742.94" y2="770.8" stroke="#ccd6eb" stroke-width="1.5"/>
<line x1="1764.01" y1="756.8" x2="1764.01" y2="770.8" stroke="#ccd6eb" stroke-width="1.5"/>
<line x1="1785.09" y1="756.8" x2="1785.09" y2="770.8" stroke="#ccd6eb" stroke-width="1.5"/>
<line x1="1806.16" y1="756.8" x2="1806.16" y2="770.8" stroke="#ccd6eb" stroke-width="1.5"/>
<line x1="1827.24" y1="756.8" x2="1827.24" y2="770.8" stroke="#ccd6eb" stroke-width="1.5"/>
<line x1="1848.31" y1="756.8" x2="1848.31" y2="770.8" stroke="#ccd6eb" stroke-width="1.5"/>
<line x1="1869.39" y1="756.8" x2="1869.39" y2="770.8" stroke="#ccd6eb" stroke-width="1.5"/>
<line x1="1890.46" y1="756.8" x2="1890.46" y2="770.8" stroke="#ccd6eb" stroke-width="1.5"/>
<rect x="347.17" y="747.21" width="9.6" height="9.09" fill="#434348" stroke="#fff" stroke-width="1"/>
<rect x="368.24" y="605.11" width="9.6" height="151.19" fill="#7cb3ea" stroke="#fff" stroke-width="1"/>
<rect x="389.32" y="499.34" width="9.6" height="256.96" fill="#7cb3ea" stroke="#fff" stroke-width="1"/>
<rect x="410.39" y="521.03" width="9.6" height="235.27" fill="#7cb3ea" stroke="#fff" stroke-width="1"/>
<rect x="431.47" y="611.21" width="9.6" height="145.09" fill="#7cb3ea" stroke="#fff" stroke-width="1"/>
<rect x="452.54" y="691.21" width="9.6" height="65.09" fill="#7cb3ea" stroke="#fff" stroke-width="1"/>
<rect x="473.62" y="731.89" width="9.6" height="24.41" fill="#434348" stroke="#fff" stroke-width="1"/>
<rect x="494.69" y="745.45" width="9.6" height="10.85" fill="#434348" stroke="#fff" stroke-width="1"/>
<rect x="515.77" y="750.47" width="9.6" height="5.83" fill="#434348" stroke="#fff" stroke-width="1"/>
<rect x="536.84" y="752.91" width="9.6" height="3.39" fill="#434348" stroke="#fff" stroke-width="1"/>
<rect x="557.92" y="752.91" width="9.6" height="3.39" fill="#434348" stroke="#fff" stroke-width="1"/>
<rect x="578.99" y="752.91" width="9.6" height="3.39" fill="#434348" stroke="#fff" stroke-width="1"/>
<rect x="600.07" y="752.5" width="9.6" height="3.8" fill="#434348" stroke="#fff" stroke-width="1"/>
<rect x="621.14" y="749.93" width="9.6" height="6.37" fill="#434348" stroke="#fff" stroke-width="1"/>
<rect x="642.22" y="747.89" width="9.6" height="8.41" fill="#434348" stroke="#fff" stroke-width="1"/>
<rect x="663.3" y="745.93" width="9.6" height="10.37" fill="#434348" stroke="#fff" stroke-width="1"/>
<rect x="684.37" y="749.32" width="9.6" height="6.98" fill="#434348" stroke="#fff" stroke-width="1"/>
<rect x="705.45" y="751.28" width="9.6" height="5.02" fill="#434348" stroke="#fff" stroke-width="1"/>
<rect x="726.52" y="753.52" width="9.6" height="2.78" fill="#434348" stroke="#fff" stroke-width="1"/>
<rect x="895.12" y="754.47" width="9.6" height="1.83" fill="#434348" stroke="#fff" stroke-width="1"/>
<rect x="916.2" y="753.52" width="9.6" height="2.78" fill="#434348" stroke="#fff" stroke-width="1"/>
<rect x="937.27" y="753.52" width="9.6" height="2.78" fill="#434348" stroke="#fff" stroke-width="1"/>
<rect x="958.35" y="753.93" width="9.6" height="2.37" fill="#434348" stroke="#fff" stroke-width="1"/>
<rect x="1169.1" y="754.27" width="9.6" height="2.03" fill="#434348" stroke="#fff" stroke-width="1"/>
<rect x="1190.18" y="754.27" width="9.6" height="2.03" fill="#434348" stroke="#fff" stroke-width="1"/>
<rect x="1211.25" y="753.25" width="9.6" height="3.05" fill="#434348" stroke="#fff" stroke-width="1"/>
<rect x="1232.33" y="754.27" width="9.6" height="2.03" fill="#434348" stroke="#fff" stroke-width="1"/>
<rect x="1253.4" y="754.27" width="9.6" height="2.03" fill="#434348" stroke="#fff" stroke-width="1"/>
<rect x="1485.23" y="754.27" width="9.6" height="2.03" fill="#434348" stroke="#fff" stroke-width="1"/>
<rect x="1506.31" y="754.27" width="9.6" height="2.03" fill="#434348" stroke="#fff" stroke-width="1"/>
<rect x="1695.98" y="754.27" width="9.6" height="2.03" fill="#434348" stroke="#fff" stroke-width="1"/>
<rect x="1717.06" y="754.27" width="9.6" height="2.03" fill="#434348" stroke="#fff" stroke-width="1"/>
<rect x="1738.14" y="753.25" width="9.6" height="3.05" fill="#434348" stroke="#fff" stroke-width="1"/>
<rect x="1759.21" y="753.25" width="9.6" height="3.05" fill="#434348" stroke="#fff" stroke-width="1"/>
<rect x="1780.29" y="754.27" width="9.6" height="2.03" fill="#434348" stroke="#fff" stroke-width="1"/>
<line x1="373.04" y1="464.4" x2="373.04" y2="756.3" stroke="#9a9a9a" stroke-width="2"/>
<line x1="457.34" y1="464.4" x2="457.34" y2="756.3" stroke="#9a9a9a" stroke-width="2"/>
<polyline points="120.14,742.91 141.21,744.2 162.29,742.91 183.36,743.34 204.44,742.91 225.51,743.34 246.59,742.91 267.66,742.91 288.74,743.34 309.82,742.91 330.89,743.34 351.97,742.91 373.04,742.91 394.12,743.77 415.19,742.91 436.27,743.34 457.34,742.91 478.42,743.34 499.49,742.91 520.57,742.91 541.64,743.34 562.72,742.91 583.79,743.34 604.87,742.91 625.94,742.91 647.02,744.2 668.1,742.91 689.17,743.34 710.25,742.91 731.32,743.34 752.4,742.91 773.47,742.91 794.55,743.34 815.62,742.91 836.7,743.34 857.77,742.91 878.85,742.91 899.92,744.2 921,742.91 942.07,743.34 963.15,742.91 984.22,743.34 1005.3,742.91 1026.38,742.91 1047.45,743.34 1068.53,742.91 1089.6,743.34 1110.68,742.91 1131.75,742.91 1152.83,744.2 1173.9,742.91 1194.98,743.34 1216.05,742.91 1237.13,743.34 1258.2,742.91 1279.28,742.91 1300.35,743.34 1321.43,742.91 1342.5,743.34 1363.58,742.91 1384.66,742.91 1405.73,743.77 1426.81,742.91 1447.88,743.34 1468.96,742.91 1490.03,743.34 1511.11,742.91 1532.18,742.91 1553.26,743.34 1574.33,742.91 1595.41,743.34 1616.48,742.91 1637.56,742.91 1658.63,744.2 1679.71,742.91 1700.78,743.34 1721.86,742.91 1742.94,743.34 1764.01,742.91 1785.09,742.91 1806.16,743.34 1827.24,742.91 1848.31,743.34 1869.39,742.91 1890.46,742.91" fill="none" stroke="#6fe05c" stroke-width="2.6" stroke-linejoin="round" stroke-linecap="round"/>
<polyline points="120.14,755.41 141.21,755.41 162.29,755.41 183.36,755.41 204.44,755.41 225.51,755.41 246.59,755.41 267.66,755.41 288.74,755.41 309.82,755.41 330.89,755.41 351.97,745.37 373.04,602.48 394.12,490.61 415.19,526.2 436.27,607.56 457.34,692.99 478.42,730.11 499.49,745.37 520.57,751.21 541.64,752.74 562.72,751.72 583.79,752.1 604.87,750.58 625.94,747.66 647.02,745.88 668.1,743.59 689.17,745.88 710.25,748.55 731.32,751.47 752.4,753.88 773.47,754.9 794.55,754.9 815.62,754.9 836.7,754.9 857.77,754.9 878.85,754.9 899.92,752.87 921,750.96 942.07,751.85 963.15,752.87 984.22,754.39 1005.3,754.39 1026.38,754.39 1047.45,754.39 1068.53,754.39 1089.6,754.39 1110.68,754.39 1131.75,754.39 1152.83,754.39 1173.9,752.49 1194.98,751.85 1216.05,750.58 1237.13,751.85 1258.2,752.49 1279.28,754.39 1300.35,754.39 1321.43,754.39 1342.5,754.39 1363.58,754.39 1384.66,754.39 1405.73,754.39 1426.81,754.39 1447.88,754.39 1468.96,754.39 1490.03,752.49 1511.11,752.49 1532.18,754.39 1553.26,754.39 1574.33,754.39 1595.41,754.39 1616.48,754.39 1637.56,754.39 1658.63,754.39 1679.71,754.39 1700.78,752.49 1721.86,751.85 1742.94,751.21 1764.01,751.85 1785.09,752.49 1806.16,754.39 1827.24,754.39 1848.31,754.39 1869.39,754.39 1890.46,755.28" fill="none" stroke="#f39441" stroke-width="2.5" stroke-linejoin="round" stroke-linecap="round"/>
<g stroke="#f20000" stroke-width="3.4" fill="none">
<line x1="373.4" y1="453" x2="456.5" y2="453"/>
<line x1="373.4" y1="443.3" x2="373.4" y2="464.4"/>
<line x1="456.5" y1="443.3" x2="456.5" y2="464.4"/>
</g>
<text x="87.2" y="455.66" text-anchor="end" class="tl" font-size="16">45k</text>
<text x="87.2" y="556.66" text-anchor="end" class="tl" font-size="16">30k</text>
<text x="87.2" y="657.56" text-anchor="end" class="tl" font-size="16">15k</text>
<text x="87.2" y="759.76" text-anchor="end" class="tl" font-size="16">0</text>
<text x="1925" y="455.2" text-anchor="start" class="tl" font-size="15">24</text>
<text x="1925" y="556.1" text-anchor="start" class="tl" font-size="15">16</text>
<text x="1925" y="656.2" text-anchor="start" class="tl" font-size="15">8</text>
<text x="1925" y="758.9" text-anchor="start" class="tl" font-size="15">0</text>
<text class="xl" x="122.14" y="781.3" text-anchor="end" transform="rotate(-45 122.14 781.3)">2015/1</text>
<text class="xl" x="164.29" y="781.3" text-anchor="end" transform="rotate(-45 164.29 781.3)">2015/3</text>
<text class="xl" x="206.44" y="781.3" text-anchor="end" transform="rotate(-45 206.44 781.3)">2015/5</text>
<text class="xl" x="248.59" y="781.3" text-anchor="end" transform="rotate(-45 248.59 781.3)">2015/7</text>
<text class="xl" x="290.74" y="781.3" text-anchor="end" transform="rotate(-45 290.74 781.3)">2015/9</text>
<text class="xl" x="332.89" y="781.3" text-anchor="end" transform="rotate(-45 332.89 781.3)">2015/11</text>
<text class="xl" x="375.04" y="781.3" text-anchor="end" transform="rotate(-45 375.04 781.3)">2016/1</text>
<text class="xl" x="417.19" y="781.3" text-anchor="end" transform="rotate(-45 417.19 781.3)">2016/3</text>
<text class="xl" x="459.34" y="781.3" text-anchor="end" transform="rotate(-45 459.34 781.3)">2016/5</text>
<text class="xl" x="501.49" y="781.3" text-anchor="end" transform="rotate(-45 501.49 781.3)">2016/7</text>
<text class="xl" x="543.64" y="781.3" text-anchor="end" transform="rotate(-45 543.64 781.3)">2016/9</text>
<text class="xl" x="585.79" y="781.3" text-anchor="end" transform="rotate(-45 585.79 781.3)">2016/11</text>
<text class="xl" x="627.94" y="781.3" text-anchor="end" transform="rotate(-45 627.94 781.3)">2017/1</text>
<text class="xl" x="670.1" y="781.3" text-anchor="end" transform="rotate(-45 670.1 781.3)">2017/3</text>
<text class="xl" x="712.25" y="781.3" text-anchor="end" transform="rotate(-45 712.25 781.3)">2017/5</text>
<text class="xl" x="754.4" y="781.3" text-anchor="end" transform="rotate(-45 754.4 781.3)">2017/7</text>
<text class="xl" x="796.55" y="781.3" text-anchor="end" transform="rotate(-45 796.55 781.3)">2017/9</text>
<text class="xl" x="838.7" y="781.3" text-anchor="end" transform="rotate(-45 838.7 781.3)">2017/11</text>
<text class="xl" x="880.85" y="781.3" text-anchor="end" transform="rotate(-45 880.85 781.3)">2018/1</text>
<text class="xl" x="923" y="781.3" text-anchor="end" transform="rotate(-45 923 781.3)">2018/3</text>
<text class="xl" x="965.15" y="781.3" text-anchor="end" transform="rotate(-45 965.15 781.3)">2018/5</text>
<text class="xl" x="1007.3" y="781.3" text-anchor="end" transform="rotate(-45 1007.3 781.3)">2018/7</text>
<text class="xl" x="1049.45" y="781.3" text-anchor="end" transform="rotate(-45 1049.45 781.3)">2018/9</text>
<text class="xl" x="1091.6" y="781.3" text-anchor="end" transform="rotate(-45 1091.6 781.3)">2018/11</text>
<text class="xl" x="1133.75" y="781.3" text-anchor="end" transform="rotate(-45 1133.75 781.3)">2019/1</text>
<text class="xl" x="1175.9" y="781.3" text-anchor="end" transform="rotate(-45 1175.9 781.3)">2019/3</text>
<text class="xl" x="1218.05" y="781.3" text-anchor="end" transform="rotate(-45 1218.05 781.3)">2019/5</text>
<text class="xl" x="1260.2" y="781.3" text-anchor="end" transform="rotate(-45 1260.2 781.3)">2019/7</text>
<text class="xl" x="1302.35" y="781.3" text-anchor="end" transform="rotate(-45 1302.35 781.3)">2019/9</text>
<text class="xl" x="1344.5" y="781.3" text-anchor="end" transform="rotate(-45 1344.5 781.3)">2019/11</text>
<text class="xl" x="1386.66" y="781.3" text-anchor="end" transform="rotate(-45 1386.66 781.3)">2020/1</text>
<text class="xl" x="1428.81" y="781.3" text-anchor="end" transform="rotate(-45 1428.81 781.3)">2020/3</text>
<text class="xl" x="1470.96" y="781.3" text-anchor="end" transform="rotate(-45 1470.96 781.3)">2020/5</text>
<text class="xl" x="1513.11" y="781.3" text-anchor="end" transform="rotate(-45 1513.11 781.3)">2020/7</text>
<text class="xl" x="1555.26" y="781.3" text-anchor="end" transform="rotate(-45 1555.26 781.3)">2020/9</text>
<text class="xl" x="1597.41" y="781.3" text-anchor="end" transform="rotate(-45 1597.41 781.3)">2020/11</text>
<text class="xl" x="1639.56" y="781.3" text-anchor="end" transform="rotate(-45 1639.56 781.3)">2021/1</text>
<text class="xl" x="1681.71" y="781.3" text-anchor="end" transform="rotate(-45 1681.71 781.3)">2021/3</text>
<text class="xl" x="1723.86" y="781.3" text-anchor="end" transform="rotate(-45 1723.86 781.3)">2021/5</text>
<text class="xl" x="1766.01" y="781.3" text-anchor="end" transform="rotate(-45 1766.01 781.3)">2021/7</text>
<text class="xl" x="1808.16" y="781.3" text-anchor="end" transform="rotate(-45 1808.16 781.3)">2021/9</text>
<text class="xl" x="1850.31" y="781.3" text-anchor="end" transform="rotate(-45 1850.31 781.3)">2021/11</text>
<text class="xl" x="1892.46" y="781.3" text-anchor="end" transform="rotate(-45 1892.46 781.3)">2022/1</text>
</g>
<g id="chartC">
<rect x="335.45" y="949.1" width="595" height="306.9" fill="#f0f0f0"/>
<line x1="112.4" y1="949.1" x2="1898.3" y2="949.1" stroke="#e3e3e3" stroke-width="1.6"/>
<line x1="112.4" y1="1051.4" x2="1898.3" y2="1051.4" stroke="#e3e3e3" stroke-width="1.6"/>
<line x1="112.4" y1="1153.7" x2="1898.3" y2="1153.7" stroke="#e3e3e3" stroke-width="1.6"/>
<line x1="112.4" y1="1256.5" x2="1898.3" y2="1256.5" stroke="#ccd6eb" stroke-width="1.6"/>
<line x1="186.7" y1="1256.5" x2="186.7" y2="1270.5" stroke="#ccd6eb" stroke-width="1.5"/>
<line x1="335.45" y1="1256.5" x2="335.45" y2="1270.5" stroke="#ccd6eb" stroke-width="1.5"/>
<line x1="484.2" y1="1256.5" x2="484.2" y2="1270.5" stroke="#ccd6eb" stroke-width="1.5"/>
<line x1="632.95" y1="1256.5" x2="632.95" y2="1270.5" stroke="#ccd6eb" stroke-width="1.5"/>
<line x1="781.7" y1="1256.5" x2="781.7" y2="1270.5" stroke="#ccd6eb" stroke-width="1.5"/>
<line x1="930.45" y1="1256.5" x2="930.45" y2="1270.5" stroke="#ccd6eb" stroke-width="1.5"/>
<line x1="1079.2" y1="1256.5" x2="1079.2" y2="1270.5" stroke="#ccd6eb" stroke-width="1.5"/>
<line x1="1227.95" y1="1256.5" x2="1227.95" y2="1270.5" stroke="#ccd6eb" stroke-width="1.5"/>
<line x1="1376.7" y1="1256.5" x2="1376.7" y2="1270.5" stroke="#ccd6eb" stroke-width="1.5"/>
<line x1="1525.45" y1="1256.5" x2="1525.45" y2="1270.5" stroke="#ccd6eb" stroke-width="1.5"/>
<line x1="1674.2" y1="1256.5" x2="1674.2" y2="1270.5" stroke="#ccd6eb" stroke-width="1.5"/>
<line x1="1822.95" y1="1256.5" x2="1822.95" y2="1270.5" stroke="#ccd6eb" stroke-width="1.5"/>
<rect x="149.6" y="1187.51" width="74.2" height="68.49" fill="#fff"/>
<rect x="152.35" y="1190.26" width="68.7" height="65.19" fill="#434348" stroke="#1f1f23" stroke-width="1.1"/>
<rect x="298.35" y="1143.73" width="74.2" height="112.27" fill="#fff"/>
<rect x="301.1" y="1146.48" width="68.7" height="108.97" fill="#7cb3ea" stroke="#5e9de2" stroke-width="1.1"/>
<rect x="447.1" y="1076" width="74.2" height="180" fill="#fff"/>
<rect x="449.85" y="1078.75" width="68.7" height="176.7" fill="#7cb3ea" stroke="#5e9de2" stroke-width="1.1"/>
<rect x="595.85" y="1014.62" width="74.2" height="241.38" fill="#fff"/>
<rect x="598.6" y="1017.37" width="68.7" height="238.08" fill="#7cb3ea" stroke="#5e9de2" stroke-width="1.1"/>
<rect x="744.6" y="1011.35" width="74.2" height="244.65" fill="#fff"/>
<rect x="747.35" y="1014.1" width="68.7" height="241.35" fill="#7cb3ea" stroke="#5e9de2" stroke-width="1.1"/>
<rect x="893.35" y="1108.12" width="74.2" height="147.88" fill="#fff"/>
<rect x="896.1" y="1110.87" width="68.7" height="144.58" fill="#7cb3ea" stroke="#5e9de2" stroke-width="1.1"/>
<rect x="1042.1" y="1163.78" width="74.2" height="92.22" fill="#fff"/>
<rect x="1044.85" y="1166.53" width="68.7" height="88.92" fill="#434348" stroke="#1f1f23" stroke-width="1.1"/>
<rect x="1190.85" y="1206.33" width="74.2" height="49.67" fill="#fff"/>
<rect x="1193.6" y="1209.08" width="68.7" height="46.37" fill="#434348" stroke="#1f1f23" stroke-width="1.1"/>
<rect x="1339.6" y="1226.79" width="74.2" height="29.21" fill="#fff"/>
<rect x="1342.35" y="1229.54" width="68.7" height="25.91" fill="#434348" stroke="#1f1f23" stroke-width="1.1"/>
<rect x="1488.35" y="1230.48" width="74.2" height="25.52" fill="#fff"/>
<rect x="1491.1" y="1233.23" width="68.7" height="22.22" fill="#434348" stroke="#1f1f23" stroke-width="1.1"/>
<rect x="1637.1" y="1228.43" width="74.2" height="27.57" fill="#fff"/>
<rect x="1639.85" y="1231.18" width="68.7" height="24.27" fill="#434348" stroke="#1f1f23" stroke-width="1.1"/>
<rect x="1785.85" y="1227.82" width="74.2" height="28.18" fill="#fff"/>
<rect x="1788.6" y="1230.57" width="68.7" height="24.88" fill="#434348" stroke="#1f1f23" stroke-width="1.1"/>
<line x1="335.45" y1="949.1" x2="335.45" y2="1256" stroke="#9a9a9a" stroke-width="2"/>
<line x1="930.45" y1="949.1" x2="930.45" y2="1256" stroke="#9a9a9a" stroke-width="2"/>
<polyline points="186.7,1151.31 335.45,1161.44 484.2,1151.31 632.95,1154.69 781.7,1151.31 930.45,1154.69 1079.2,1151.31 1227.95,1151.31 1376.7,1154.69 1525.45,1151.31 1674.2,1154.69 1822.95,1151.31" fill="none" stroke="#6fe05c" stroke-width="2.6" stroke-linejoin="round" stroke-linecap="round"/>
<polyline points="186.7,1189.8 335.45,1136.5 484.2,1080.6 632.95,1011.5 781.7,1016.8 930.45,1106.8 1079.2,1166.1 1227.95,1208.5 1376.7,1226 1525.45,1232.4 1674.2,1228.7 1822.95,1229.4" fill="none" stroke="#f39441" stroke-width="2.6" stroke-linejoin="round" stroke-linecap="round"/>
<g stroke="#f20000" stroke-width="3.4" fill="none">
<line x1="190.2" y1="949.8" x2="931.5" y2="949.8"/>
<line x1="190.2" y1="936.9" x2="190.2" y2="963.7"/>
<line x1="931.5" y1="936.9" x2="931.5" y2="963.7"/>
</g>
<text x="89" y="954.16" text-anchor="end" class="tl" font-size="16">150k</text>
<text x="89" y="1055.66" text-anchor="end" class="tl" font-size="16">100k</text>
<text x="89" y="1157.26" text-anchor="end" class="tl" font-size="16">50k</text>
<text x="89" y="1259.06" text-anchor="end" class="tl" font-size="16">0</text>
<text x="1922.8" y="953.02" text-anchor="start" class="tl" font-size="14.5">3</text>
<text x="1922.8" y="1054.82" text-anchor="start" class="tl" font-size="14.5">2</text>
<text x="1922.8" y="1155.82" text-anchor="start" class="tl" font-size="14.5">1</text>
<text x="1922.8" y="1258.42" text-anchor="start" class="tl" font-size="14.5">0</text>
</g>
<g id="chartD">
<rect x="190.2" y="1336" width="598.52" height="301" fill="#f0f0f0"/>
<line x1="115.1" y1="1330.5" x2="1899.1" y2="1330.5" stroke="#e3e3e3" stroke-width="1.6"/>
<line x1="115.1" y1="1432.67" x2="1899.1" y2="1432.67" stroke="#e3e3e3" stroke-width="1.6"/>
<line x1="115.1" y1="1534.83" x2="1899.1" y2="1534.83" stroke="#e3e3e3" stroke-width="1.6"/>
<line x1="115.1" y1="1637.5" x2="1899.1" y2="1637.5" stroke="#ccd6eb" stroke-width="1.6"/>
<line x1="190.2" y1="1637.5" x2="190.2" y2="1651.5" stroke="#ccd6eb" stroke-width="1.5"/>
<line x1="339.83" y1="1637.5" x2="339.83" y2="1651.5" stroke="#ccd6eb" stroke-width="1.5"/>
<line x1="489.46" y1="1637.5" x2="489.46" y2="1651.5" stroke="#ccd6eb" stroke-width="1.5"/>
<line x1="639.09" y1="1637.5" x2="639.09" y2="1651.5" stroke="#ccd6eb" stroke-width="1.5"/>
<line x1="788.72" y1="1637.5" x2="788.72" y2="1651.5" stroke="#ccd6eb" stroke-width="1.5"/>
<line x1="938.35" y1="1637.5" x2="938.35" y2="1651.5" stroke="#ccd6eb" stroke-width="1.5"/>
<line x1="1087.98" y1="1637.5" x2="1087.98" y2="1651.5" stroke="#ccd6eb" stroke-width="1.5"/>
<line x1="1237.61" y1="1637.5" x2="1237.61" y2="1651.5" stroke="#ccd6eb" stroke-width="1.5"/>
<line x1="1387.24" y1="1637.5" x2="1387.24" y2="1651.5" stroke="#ccd6eb" stroke-width="1.5"/>
<line x1="1536.87" y1="1637.5" x2="1536.87" y2="1651.5" stroke="#ccd6eb" stroke-width="1.5"/>
<line x1="1686.5" y1="1637.5" x2="1686.5" y2="1651.5" stroke="#ccd6eb" stroke-width="1.5"/>
<line x1="1836.13" y1="1637.5" x2="1836.13" y2="1651.5" stroke="#ccd6eb" stroke-width="1.5"/>
<rect x="153.1" y="1466.57" width="74.2" height="170.43" fill="#fff"/>
<rect x="155.85" y="1469.32" width="68.7" height="167.13" fill="#7cb3ea" stroke="#5e9de2" stroke-width="1.1"/>
<rect x="302.73" y="1359.63" width="74.2" height="277.37" fill="#fff"/>
<rect x="305.48" y="1362.38" width="68.7" height="274.07" fill="#7cb3ea" stroke="#5e9de2" stroke-width="1.1"/>
<rect x="452.36" y="1373.93" width="74.2" height="263.07" fill="#fff"/>
<rect x="455.11" y="1376.68" width="68.7" height="259.77" fill="#7cb3ea" stroke="#5e9de2" stroke-width="1.1"/>
<rect x="601.99" y="1467.93" width="74.2" height="169.07" fill="#fff"/>
<rect x="604.74" y="1470.68" width="68.7" height="165.77" fill="#7cb3ea" stroke="#5e9de2" stroke-width="1.1"/>
<rect x="751.62" y="1546.26" width="74.2" height="90.74" fill="#fff"/>
<rect x="754.37" y="1549.01" width="68.7" height="87.44" fill="#7cb3ea" stroke="#5e9de2" stroke-width="1.1"/>
<rect x="901.25" y="1593.25" width="74.2" height="43.75" fill="#fff"/>
<rect x="904" y="1596" width="68.7" height="40.45" fill="#434348" stroke="#1f1f23" stroke-width="1.1"/>
<rect x="1050.88" y="1609.6" width="74.2" height="27.4" fill="#fff"/>
<rect x="1053.63" y="1612.35" width="68.7" height="24.1" fill="#434348" stroke="#1f1f23" stroke-width="1.1"/>
<rect x="1200.51" y="1619.13" width="74.2" height="17.87" fill="#fff"/>
<rect x="1203.26" y="1621.88" width="68.7" height="14.57" fill="#434348" stroke="#1f1f23" stroke-width="1.1"/>
<rect x="1350.14" y="1627.99" width="74.2" height="9.01" fill="#fff"/>
<rect x="1352.89" y="1630.74" width="68.7" height="5.71" fill="#434348" stroke="#1f1f23" stroke-width="1.1"/>
<rect x="1499.77" y="1628.67" width="74.2" height="8.33" fill="#fff"/>
<rect x="1502.52" y="1631.42" width="68.7" height="5.03" fill="#434348" stroke="#1f1f23" stroke-width="1.1"/>
<rect x="1649.4" y="1625.95" width="74.2" height="11.05" fill="#fff"/>
<rect x="1652.15" y="1628.7" width="68.7" height="7.75" fill="#434348" stroke="#1f1f23" stroke-width="1.1"/>
<rect x="1799.03" y="1615.73" width="74.2" height="21.27" fill="#fff"/>
<rect x="1801.78" y="1618.48" width="68.7" height="17.97" fill="#434348" stroke="#1f1f23" stroke-width="1.1"/>
<line x1="190.2" y1="1341" x2="190.2" y2="1637" stroke="#9a9a9a" stroke-width="2"/>
<line x1="788.72" y1="1331" x2="788.72" y2="1637" stroke="#9a9a9a" stroke-width="2"/>
<polyline points="190.2,1544 339.83,1553 489.46,1544 639.09,1547 788.72,1544 938.35,1547 1087.98,1544 1237.61,1544 1387.24,1547 1536.87,1544 1686.5,1547 1836.13,1544" fill="none" stroke="#6fe05c" stroke-width="2.6" stroke-linejoin="round" stroke-linecap="round"/>
<polyline points="190.2,1481.7 339.83,1357.5 489.46,1396.9 639.09,1475.4 788.72,1553.9 938.35,1595.8 1087.98,1613.2 1237.61,1621.2 1387.24,1627.5 1536.87,1628.7 1686.5,1627.5 1836.13,1617.4" fill="none" stroke="#f39441" stroke-width="2.6" stroke-linejoin="round" stroke-linecap="round"/>
<g stroke="#f20000" stroke-width="3.4" fill="none">
<line x1="190.2" y1="1327.1" x2="931.5" y2="1327.1"/>
<line x1="190.2" y1="1314.2" x2="190.2" y2="1341.1"/>
<line x1="931.5" y1="1314.2" x2="931.5" y2="1341.1"/>
</g>
<text x="93.5" y="1335.66" text-anchor="end" class="tl" font-size="16">45k</text>
<text x="93.5" y="1439.26" text-anchor="end" class="tl" font-size="16">30k</text>
<text x="93.5" y="1538.76" text-anchor="end" class="tl" font-size="16">15k</text>
<text x="93.5" y="1639.86" text-anchor="end" class="tl" font-size="16">0</text>
<text x="1914.2" y="1325.92" text-anchor="start" class="tl" font-size="14.5">3.6</text>
<text x="1914.2" y="1427.72" text-anchor="start" class="tl" font-size="14.5">2.4</text>
<text x="1914.2" y="1528.32" text-anchor="start" class="tl" font-size="14.5">1.2</text>
<text x="1914.2" y="1630.12" text-anchor="start" class="tl" font-size="14.5">0</text>
<text class="ser" x="197.2" y="1666.5" text-anchor="end" font-size="33" fill="#777" transform="rotate(-40 197.2 1666.5)">January</text>
<text class="ser" x="346.83" y="1666.5" text-anchor="end" font-size="33" fill="#777" transform="rotate(-40 346.83 1666.5)">February</text>
<text class="ser" x="496.46" y="1666.5" text-anchor="end" font-size="33" fill="#777" transform="rotate(-40 496.46 1666.5)">March</text>
<text class="ser" x="646.09" y="1666.5" text-anchor="end" font-size="33" fill="#777" transform="rotate(-40 646.09 1666.5)">April</text>
<text class="ser" x="795.72" y="1666.5" text-anchor="end" font-size="33" fill="#777" transform="rotate(-40 795.72 1666.5)">May</text>
<text class="ser" x="945.35" y="1666.5" text-anchor="end" font-size="33" fill="#777" transform="rotate(-40 945.35 1666.5)">June</text>
<text class="ser" x="1094.98" y="1666.5" text-anchor="end" font-size="33" fill="#777" transform="rotate(-40 1094.98 1666.5)">July</text>
<text class="ser" x="1244.61" y="1666.5" text-anchor="end" font-size="33" fill="#777" transform="rotate(-40 1244.61 1666.5)">August</text>
<text class="ser" x="1394.24" y="1666.5" text-anchor="end" font-size="33" fill="#777" transform="rotate(-40 1394.24 1666.5)">September</text>
<text class="ser" x="1543.87" y="1666.5" text-anchor="end" font-size="33" fill="#777" transform="rotate(-40 1543.87 1666.5)">October</text>
<text class="ser" x="1693.5" y="1666.5" text-anchor="end" font-size="33" fill="#777" transform="rotate(-40 1693.5 1666.5)">November</text>
<text class="ser" x="1843.13" y="1666.5" text-anchor="end" font-size="33" fill="#777" transform="rotate(-40 1843.13 1666.5)">December</text>
</g>
<text class="ser" x="334.7" y="29.5" font-size="33" fill="#f20000" textLength="288.4" lengthAdjust="spacingAndGlyphs">Multivariate Cluster</text>
<text class="ser" x="321.7" y="933" font-size="33" fill="#f20000" textLength="288.4" lengthAdjust="spacingAndGlyphs">Multivariate Cluster</text>
<text class="ser" x="1635" y="39.4" font-size="33" fill="#000" textLength="189.9" lengthAdjust="spacingAndGlyphs">Chikungunya</text>
<text class="ser" x="1836.5" y="38.5" font-size="47" fill="#000" textLength="65.4" lengthAdjust="spacingAndGlyphs">(A)</text>
<text class="ser" x="1764.2" y="474.2" font-size="33" fill="#000" textLength="63.8" lengthAdjust="spacingAndGlyphs">Zika</text>
<text class="ser" x="1839.2" y="474" font-size="47" fill="#000" textLength="61.9" lengthAdjust="spacingAndGlyphs">(B)</text>
<text class="ser" x="1634.5" y="942.2" font-size="33" fill="#000" textLength="190.3" lengthAdjust="spacingAndGlyphs">Chikungunya</text>
<text class="ser" x="1836" y="942.2" font-size="47" fill="#000" textLength="66" lengthAdjust="spacingAndGlyphs">(C)</text>
<text class="ser" x="1760.7" y="1322.2" font-size="33" fill="#000" textLength="64.1" lengthAdjust="spacingAndGlyphs">Zika</text>
<text class="ser" x="1836.1" y="1322.2" font-size="47" fill="#000" textLength="66" lengthAdjust="spacingAndGlyphs">(D)</text>
<text class="ttl" x="40.4" y="578" font-size="38" textLength="321.3" lengthAdjust="spacingAndGlyphs" transform="rotate(-90 40.4 578)">Number of Cases</text>
<text class="ttl" x="41.4" y="1443" font-size="40" textLength="323.3" lengthAdjust="spacingAndGlyphs" transform="rotate(-90 41.4 1443)">Number of Cases</text>
<text class="ttl" x="1965.5" y="259.5" font-size="37.8" textLength="173.5" lengthAdjust="spacingAndGlyphs" transform="rotate(90 1965.5 259.5)">Observed</text>
<text class="ttl" x="1965.5" y="450" font-size="37.8" textLength="27.5" lengthAdjust="spacingAndGlyphs" transform="rotate(90 1965.5 450)">/</text>
<text class="ttl" x="1965.5" y="487.5" font-size="37.8" textLength="166.5" lengthAdjust="spacingAndGlyphs" transform="rotate(90 1965.5 487.5)">Expected</text>
<text class="ttl" x="1959" y="1121" font-size="36.3" textLength="174.5" lengthAdjust="spacingAndGlyphs" transform="rotate(90 1959 1121)">Observed</text>
<text class="ttl" x="1959" y="1308" font-size="36.3" textLength="22" lengthAdjust="spacingAndGlyphs" transform="rotate(90 1959 1308)">/</text>
<text class="ttl" x="1959" y="1349.5" font-size="36.3" textLength="166.9" lengthAdjust="spacingAndGlyphs" transform="rotate(90 1959 1349.5)">Expected</text>
<circle cx="303.5" cy="1790.4" r="18.2" fill="#7cb3ea"/>
<circle cx="582.2" cy="1790.4" r="18.2" fill="#434348"/>
<line x1="877" y1="1793.4" x2="929.5" y2="1793.4" stroke="#6fe05c" stroke-width="6" stroke-linecap="round"/>
<line x1="1191.5" y1="1793.4" x2="1243.5" y2="1793.4" stroke="#f39441" stroke-width="6" stroke-linecap="round"/>
<text class="lg" x="347.1" y="1806.4" font-size="37" textLength="145.6" lengthAdjust="spacingAndGlyphs">Cluster</text>
<text class="lg" x="625.9" y="1806.4" font-size="37" textLength="192.9" lengthAdjust="spacingAndGlyphs">Observed</text>
<text class="lg" x="945.8" y="1806.4" font-size="37" textLength="178.9" lengthAdjust="spacingAndGlyphs">Expected</text>
<text class="lg" x="1260.3" y="1806.4" font-size="37" textLength="190.2" lengthAdjust="spacingAndGlyphs">Observed</text>
<text class="lg" x="1472.5" y="1806.4" font-size="37" textLength="13.5" lengthAdjust="spacingAndGlyphs">/</text>
<text class="lg" x="1505.5" y="1806.4" font-size="37" textLength="178.6" lengthAdjust="spacingAndGlyphs">Expected</text>
</svg></body></html>
